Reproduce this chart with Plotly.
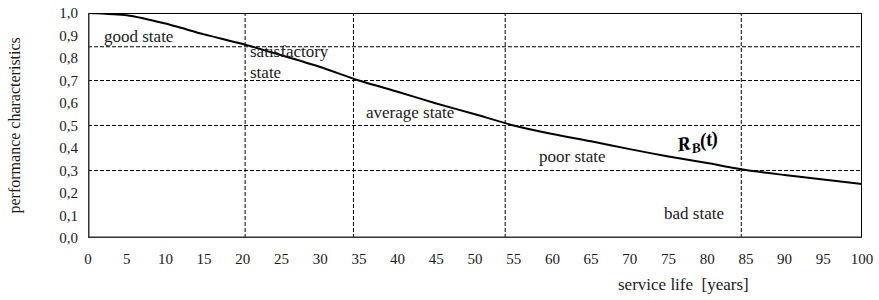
import plotly.graph_objects as go

# ---- data ----
years = [0, 5, 10, 15, 20, 25, 30, 35, 40, 45, 50, 55, 60, 65, 70, 75, 80, 85, 90, 95, 100]
rb_values = [1.0, 0.99, 0.953, 0.905, 0.862, 0.812, 0.76, 0.70, 0.65, 0.598, 0.55, 0.50,
             0.462, 0.43, 0.395, 0.362, 0.333, 0.302, 0.28, 0.26, 0.24]
state_thresholds = [0.85, 0.7, 0.5, 0.3]
threshold_years = [20.3, 34.3, 53.9, 84.4]
y_ticks = [0.0, 0.1, 0.2, 0.3, 0.4, 0.5, 0.6, 0.7, 0.8, 0.9, 1.0]
y_tick_labels = ["0,0", "0,1", "0,2", "0,3", "0,4", "0,5", "0,6", "0,7", "0,8", "0,9", "1,0"]
x_ticks = list(range(0, 101, 5))
state_labels = ["good state", "satisfactory", "state", "average state", "poor state", "bad state"]
state_label_pos = [(1.8, 0.895), (20.7, 0.828), (20.7, 0.735), (35.7, 0.557), (58.0, 0.361), (74.2, 0.108)]

FONT = "Liberation Serif"
TXT = "#1a1a1a"

fig = go.Figure()
fig.add_trace(go.Scatter(x=years, y=rb_values, mode="lines",
                         line=dict(color="black", width=2, shape="spline", smoothing=0.6),
                         showlegend=False, hoverinfo="skip"))

dash = "4px,2px"
for v in state_thresholds:
    fig.add_shape(type="line", xref="x", yref="y", x0=0, x1=100, y0=v, y1=v,
                  line=dict(color="black", width=1, dash=dash), layer="below")
for t in threshold_years:
    fig.add_shape(type="line", xref="x", yref="y", x0=t, x1=t, y0=0, y1=1,
                  line=dict(color="black", width=1, dash=dash), layer="below")

# frame
fig.add_shape(type="rect", xref="x", yref="y", x0=0, x1=100, y0=0, y1=1,
              line=dict(color="black", width=2), layer="above")
fig.add_shape(type="line", xref="x", yref="y", x0=0, x1=0, y0=0, y1=1,
              line=dict(color="#333", width=3), layer="above")
fig.add_shape(type="line", xref="x", yref="y", x0=0, x1=100, y0=0, y1=0,
              line=dict(color="#333", width=3), layer="above")

for txt, (x, y) in zip(state_labels, state_label_pos):
    fig.add_annotation(x=x, y=y, xref="x", yref="y", text=txt, showarrow=False,
                       xanchor="left", yanchor="middle",
                       font=dict(family=FONT, size=17, color=TXT))

fig.add_annotation(x=78.7, y=0.425, xref="x", yref="y",
                   text="<b><i>R<sub>B</sub>(t)</i></b>", showarrow=False,
                   textangle=-10, font=dict(family=FONT, size=20, color="black"))

fig.add_annotation(x=0, y=0.5, xref="paper", yref="paper", xshift=-74,
                   text="performance characteristics", textangle=-90, showarrow=False,
                   xanchor="center", yanchor="middle",
                   font=dict(family=FONT, size=16, color=TXT))
fig.add_annotation(x=0.769, y=0, xref="paper", yref="paper", yshift=-35,
                   text="service life  [years]", showarrow=False,
                   xanchor="center", yanchor="top",
                   font=dict(family=FONT, size=17, color=TXT))

fig.update_layout(
    width=879, height=300,
    margin=dict(l=88, r=17, t=13, b=62, autoexpand=False),
    paper_bgcolor="white", plot_bgcolor="white",
    xaxis=dict(range=[0, 100], tickvals=x_ticks, showgrid=False, zeroline=False,
               showline=False, ticks="", ticklabelstandoff=10, automargin=False,
               ticklabeloverflow="allow",
               tickfont=dict(family=FONT, size=15, color=TXT), fixedrange=True),
    yaxis=dict(range=[0, 1], tickvals=y_ticks, ticktext=y_tick_labels, showgrid=False,
               zeroline=False, showline=False, ticks="", ticklabelstandoff=9, automargin=False,
               ticklabeloverflow="allow",
               tickfont=dict(family=FONT, size=15, color=TXT), fixedrange=True),
)

fig.write_html("out.html", config={"displayModeBar": False, "staticPlot": True},
               post_script="document.body.style.margin='0';")
